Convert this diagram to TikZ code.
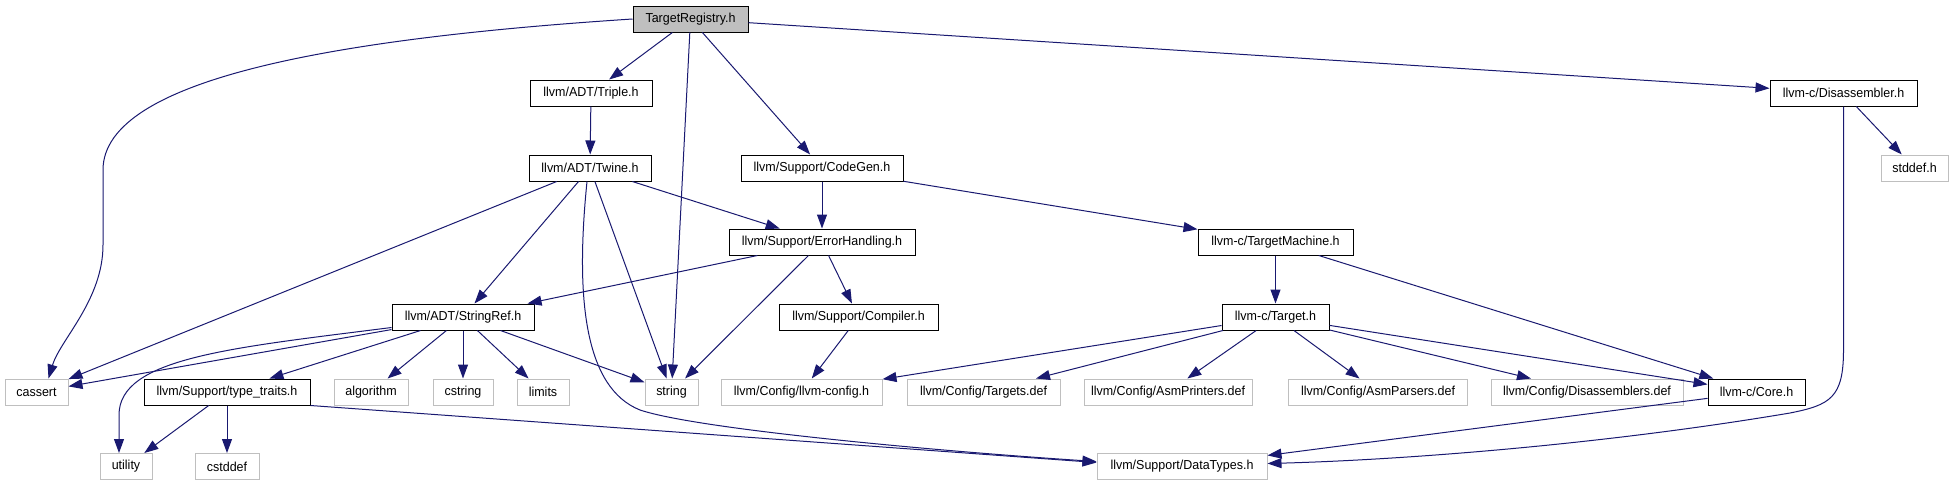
\documentclass[tikz,border=0pt]{standalone}
\usepackage{fontspec}
\setmainfont{Liberation Sans}[FakeStretch=0.96]
\usepackage{xcolor}
\usepackage{tikz}
\usetikzlibrary{arrows.meta}

\definecolor{edgeblue}{HTML}{191970}
\definecolor{extgray}{HTML}{BFBFBF}

\begin{document}
\begin{tikzpicture}[
            x=1pt, y=-1pt,
            file/.style={rectangle, draw=black, line width=1pt, inner sep=0pt, minimum height=26pt, font=\fontsize{13}{15}\selectfont},
            ext/.style={file, draw=extgray},
            root/.style={file, fill=extgray},
            arrow/.style={->, >={Triangle[length=14pt,width=10pt]}, draw=edgeblue, line width=1pt}
        ]
            \useasboundingbox (0,0) rectangle (1953,485);

            % top rows
            \node[root, minimum width=115pt] (reg)      at (690.5,19)  {TargetRegistry.h};
            \node[file, minimum width=122pt] (triple)   at (591,93)    {llvm/ADT/Triple.h};
            \node[file, minimum width=147pt] (disasm)   at (1843.5,93) {llvm-c/Disassembler.h};
            \node[file, minimum width=122pt] (twine)    at (590,168)   {llvm/ADT/Twine.h};
            \node[file, minimum width=162pt] (codegen)  at (822,168)   {llvm/Support/CodeGen.h};
            \node[ext,  minimum width=67pt]  (stddef)   at (1914.5,168) {stddef.h};
            \node[file, minimum width=186pt] (errh)     at (822,242)   {llvm/Support/ErrorHandling.h};
            \node[file, minimum width=155pt] (tmachine) at (1275.5,242) {llvm-c/TargetMachine.h};
            \node[file, minimum width=142pt] (strref)   at (463,317)   {llvm/ADT/StringRef.h};
            \node[file, minimum width=159pt] (compiler) at (858.5,317) {llvm/Support/Compiler.h};
            \node[file, minimum width=107pt] (target)   at (1275.5,317) {llvm-c/Target.h};

            % leaf row
            \node[ext,  minimum width=63pt]  (cassert)  at (36.5,392)  {cassert};
            \node[file, minimum width=166pt] (ttraits)  at (227,392)   {llvm/Support/type\_traits.h};
            \node[ext,  minimum width=74pt]  (algo)     at (371,392)   {algorithm};
            \node[ext,  minimum width=60pt]  (cstring)  at (463,392)   {cstring};
            \node[ext,  minimum width=52pt]  (limits)   at (543,392)   {limits};
            \node[ext,  minimum width=53pt]  (string)   at (671.5,392) {string};
            \node[ext,  minimum width=161pt] (llvmcfg)  at (801.5,392) {llvm/Config/llvm-config.h};
            \node[ext,  minimum width=153pt] (tgtdef)   at (983.5,392) {llvm/Config/Targets.def};
            \node[ext,  minimum width=168pt] (asmprint) at (1168,392)  {llvm/Config/AsmPrinters.def};
            \node[ext,  minimum width=179pt] (asmparse) at (1378,392)  {llvm/Config/AsmParsers.def};
            \node[ext,  minimum width=192pt] (disdef)   at (1587,392)  {llvm/Config/Disassemblers.def};
            \node[file, minimum width=97pt]  (core)     at (1756.5,392) {llvm-c/Core.h};
            \node[ext,  minimum width=52pt]  (utility)  at (126,466.5) {utility};
            \node[ext,  minimum width=64pt]  (cstddef)  at (227,466.5) {cstddef};
            \node[ext,  minimum width=170pt] (dtypes)   at (1182,466.5) {llvm/Support/DataTypes.h};

            % TargetRegistry.h
            \draw[arrow] (reg.west) .. controls (340,38) and (103,78) .. (103,170) -- (103,245)
                .. controls (103,300) and (60,340) .. ([xshift=12pt]cassert.north);
            \draw[arrow] (reg) -- (triple);
            \draw[arrow] (reg) -- (string);
            \draw[arrow] (reg) -- (codegen);
            \draw[arrow] (reg) -- (disasm);

            \draw[arrow] (triple) -- (twine);

            % Twine.h
            \draw[arrow] (twine) -- (cassert);
            \draw[arrow] (twine) -- (strref);
            \draw[arrow] ([xshift=-3pt]twine.south) .. controls (575,300) and (585,388) .. (640,410)
                .. controls (700,430) and (950,452) .. ([yshift=5pt]dtypes.west);
            \draw[arrow] (twine) -- (string);
            \draw[arrow] (twine) -- (errh);

            \draw[arrow] (codegen) -- (errh);
            \draw[arrow] (codegen) -- (tmachine);

            \draw[arrow] (errh) -- (strref);
            \draw[arrow] (errh) -- (string);
            \draw[arrow] (errh) -- (compiler);

            \draw[arrow] (tmachine) -- (target);
            \draw[arrow] (tmachine) -- (core);

            \draw[arrow] (disasm) -- (stddef);
            \draw[arrow] (disasm.south) -- (1843.5,350) .. controls (1843.5,398) and (1830,405) .. (1790,413)
                .. controls (1600,445) and (1400,460) .. ([yshift=3pt]dtypes.east);

            % StringRef.h
            \draw[arrow] (strref) -- (cassert);
            \draw[arrow] ([yshift=3pt]strref.south west) .. controls (230,348) and (119,358) .. (119,415)
                -- ([xshift=-7pt]utility.north);
            \draw[arrow] (strref) -- (ttraits);
            \draw[arrow] (strref) -- (algo);
            \draw[arrow] (strref) -- (cstring);
            \draw[arrow] (strref) -- (limits);
            \draw[arrow] (strref) -- (string);

            \draw[arrow] (ttraits) -- (utility);
            \draw[arrow] (ttraits) -- (cstddef);
            \draw[arrow] (ttraits.south east) -- ([yshift=4pt]dtypes.west);

            \draw[arrow] (compiler) -- (llvmcfg);

            % Target.h
            \draw[arrow] (target) -- (llvmcfg);
            \draw[arrow] (target) -- (tgtdef);
            \draw[arrow] (target) -- (asmprint);
            \draw[arrow] (target) -- (asmparse);
            \draw[arrow] (target) -- (disdef);
            \draw[arrow] (target) -- (core);

            \draw[arrow] (core) -- (dtypes);
        \end{tikzpicture}
\end{document}
